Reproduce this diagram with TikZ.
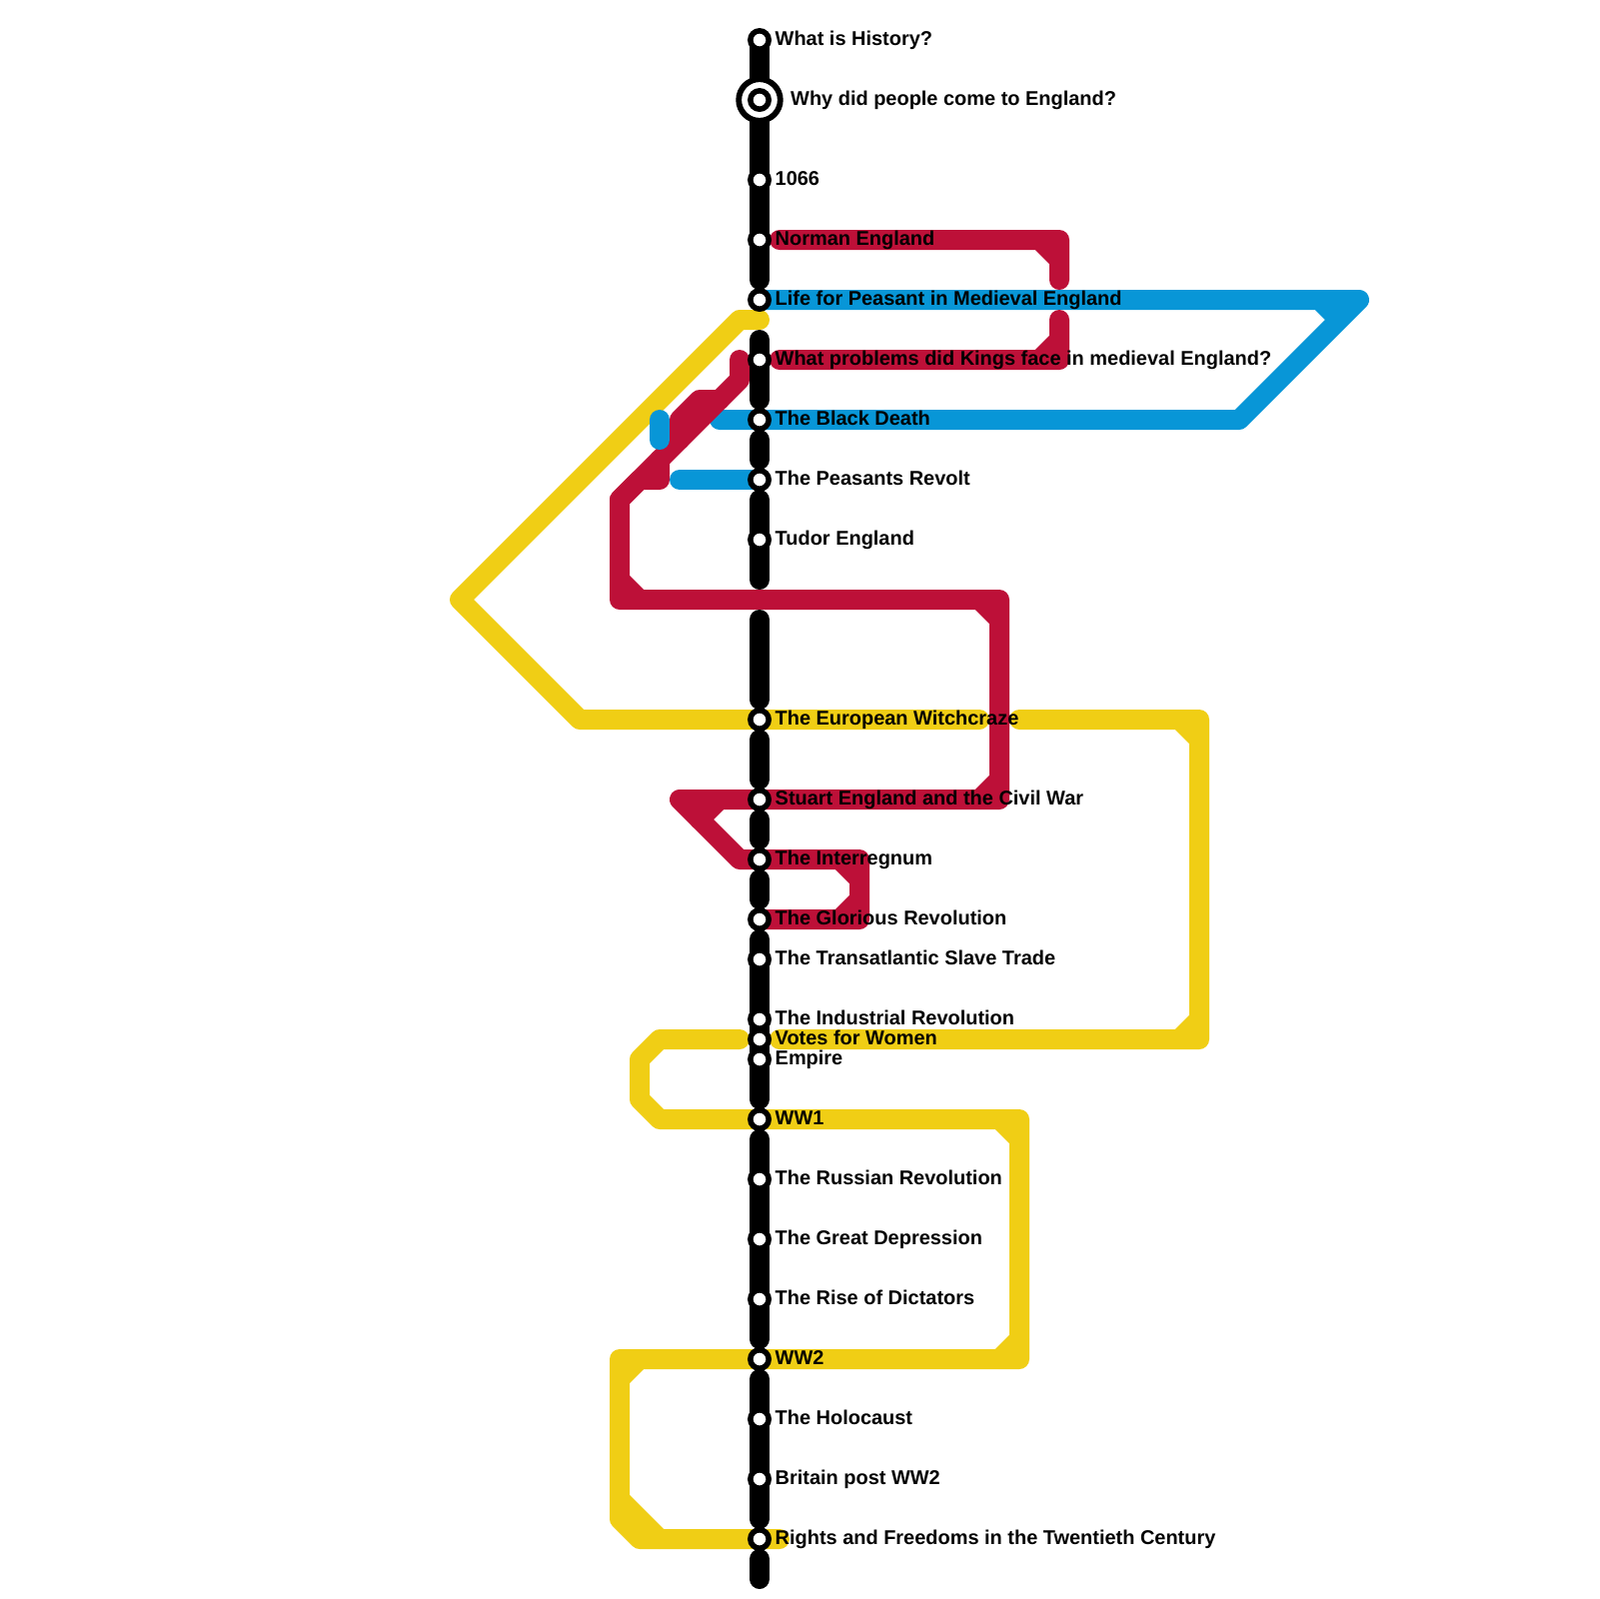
\documentclass[tikz,border=0pt]{standalone}
\usepackage{fontspec}
\setmainfont{Liberation Sans}
\usetikzlibrary{backgrounds}
\definecolor{histred}{HTML}{BD1038}
\definecolor{histblue}{HTML}{0896D7}
\definecolor{histyellow}{HTML}{F0CE15}
\tikzset{
  tube/.style={line width=2mm,line cap=round,line join=round},
  stn/.style={circle,draw=black,fill=white,line width=0.55mm,minimum size=1.84mm,inner sep=0pt,outer sep=0pt},
  stnbig/.style={circle,draw=black,fill=white,line width=0.58mm,minimum size=4.16mm,inner sep=0pt,outer sep=0pt},
  lbl/.style={anchor=base west,inner sep=0pt,font=\fontsize{5.675}{7}\selectfont\bfseries}
}
\begin{document}
\begin{tikzpicture}[x=0.1mm,y=-0.1mm]
\useasboundingbox (0,0) rectangle (1600,1600);
\node[stnbig] (stwhy) at (760,100) {};
\foreach \n/\y/\t in {1/40/What is History?, 2/100/, 3/180/1066, 4/240/Norman England,
    5/300/Life for Peasant in Medieval England, 6/360/What problems did Kings face in medieval England?,
    7/420/The Black Death, 8/480/The Peasants Revolt, 9/540/Tudor England, 10/720/The European Witchcraze,
    11/800/Stuart England and the Civil War, 12/860/The Interregnum, 13/920/The Glorious Revolution,
    14/960/The Transatlantic Slave Trade, 15/1020/The Industrial Revolution, 16/1040/Votes for Women,
    17/1060/Empire, 18/1120/WW1, 19/1180/The Russian Revolution, 20/1240/The Great Depression,
    21/1300/The Rise of Dictators, 22/1360/WW2, 23/1420/The Holocaust, 24/1480/Britain post WW2,
    25/1540/Rights and Freedoms in the Twentieth Century}
  {\node[stn] (st\n) at (760,\y) {};
   \node[lbl] (lb\n) at (775,\y+5.4) {\t};}
\node[lbl] (lbwhy) at (790.5,105.4) {Why did people come to England?};
\begin{scope}[on background layer]
% blue
\draw[tube,histblue] (st5.center) -- (1360,300) -- (1240,420) -- (720,420) (1320,300) -- (1340,320);
\draw[tube,histblue] (680,480) -- (st8.center);
% red
\draw[tube,histred] (780,240) -- (1060,240) -- (1060,280) (1040,240) -- (1060,260);
\draw[tube,histred] (780,360) -- (1060,360) -- (1060,320) (1060,340) -- (1040,360);
\draw[tube,histred] (740,360) -- (740,380) -- (620,500);
\draw[tube,histred] (720,400) -- (700,400) -- (680,420) -- (680,440);
\draw[tube,histred] (660,460) -- (660,480) -- (640,480) -- (620,500) -- (620,600) -- (1000,600) -- (1000,800) -- (680,800) -- (740,860) -- (860,860) -- (860,920) -- (st13.center);
\draw[tube,histred] (620,580) -- (640,600) (980,600) -- (1000,620) (1000,780) -- (980,800);
\draw[tube,histred] (720,800) -- (700,820) (840,860) -- (860,880) (860,900) -- (840,920);
% yellow
\draw[tube,histyellow] (760,320) -- (740,320) -- (460,600) -- (580,720) -- (980,720);
\draw[tube,histyellow] (1020,720) -- (1200,720) -- (1200,1040) -- (780,1040) (1180,720) -- (1200,740) (1200,1020) -- (1180,1040);
\draw[tube,histyellow] (740,1040) -- (660,1040) -- (640,1060) -- (640,1100) -- (660,1120) -- (1020,1120) -- (1020,1360) -- (620,1360) -- (620,1520) -- (640,1540) -- (780,1540);
\draw[tube,histyellow] (1000,1120) -- (1020,1140) (1020,1340) -- (1000,1360) (620,1380) -- (640,1360) (620,1500) -- (660,1540);
\draw[tube,histblue] (660,420) -- (660,440);
% black
\foreach \a/\b in {40/280, 340/400, 440/460, 500/580, 620/700, 740/780, 820/840, 880/900, 940/1100, 1140/1340, 1380/1520, 1560/1580}
  {\draw[tube,black] (760,\a) -- (760,\b);}
\end{scope}
\end{tikzpicture}
\end{document}
